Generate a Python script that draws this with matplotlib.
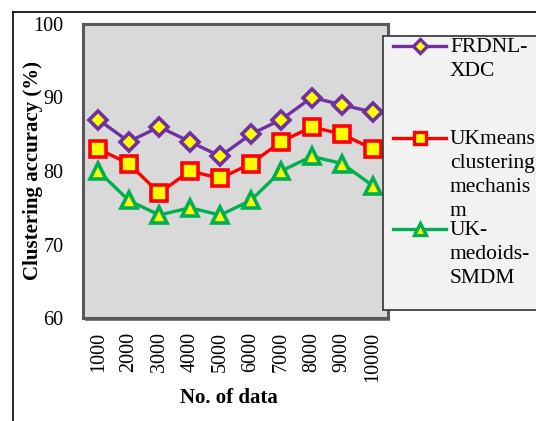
import matplotlib
matplotlib.use('Agg')
import matplotlib.pyplot as plt
from matplotlib.lines import Line2D
from matplotlib.patches import Rectangle

# ======================
# DATA
# ======================

n_data = ['1000', '2000', '3000', '4000', '5000', '6000', '7000', '8000', '9000', '10000']
frdnl_xdc = [87, 84, 86, 84, 82, 85, 87, 90, 89, 88]
ukmeans = [83, 81, 77, 80, 79, 81, 84, 86, 85, 83]
ukmedoids = [80, 76, 74, 75, 74, 76, 80, 82, 81, 78]

series = [
    (frdnl_xdc, ['FRDNL-', 'XDC'], '#7030a0', 'D', 9.5),
    (ukmeans, ['UKmeans', 'clustering', 'mechanis', 'm'], '#ff0000', 's', 11),
    (ukmedoids, ['UK-', 'medoids-', 'SMDM'], '#00b050', '^', 12),
]

# ======================
# FIGURE
# ======================

plt.rcParams['font.family'] = ['Liberation Serif', 'DejaVu Serif']
W, H = 536, 421
fig = plt.figure(figsize=(W / 100, H / 100), dpi=100)


def fx(px):
    return px / W


def fy(py):
    return (H - py) / H


# outer frame
fig.add_artist(Line2D([fx(12.5), fx(12.5)], [fy(12), 0], color='black', lw=1.2))
fig.add_artist(Line2D([fx(12.5), 1], [fy(12), fy(12)], color='black', lw=1.2))

# plot area shadow
fig.add_artist(Rectangle((fx(85), fy(321)), fx(305), 294 / H, facecolor='#7f7f7f',
                         edgecolor='none', zorder=0))

ax = fig.add_axes([fx(83), fy(318), fx(305), 294 / H])
ax.set_zorder(1)
ax.set_facecolor('#d9d9d9')
for sp in ax.spines.values():
    sp.set_color('#595959')
    sp.set_linewidth(2.2)

x = range(len(n_data))
for vals, label, color, marker, ms in series:
    ax.plot(x, vals, color=color, lw=2.4, marker=marker, markersize=ms,
            markerfacecolor='#ffff00', markeredgecolor=color, markeredgewidth=2.6,
            clip_on=False, zorder=3)

ax.set_xlim(-0.5, len(n_data) - 0.5)
ax.set_ylim(60, 100)
ax.set_yticks([60, 70, 80, 90, 100])
ax.set_xticks(list(x))
ax.set_xticklabels(n_data, rotation=90, va='top')
ax.tick_params(axis='both', length=0, labelsize=14.5)
ax.tick_params(axis='y', pad=14)
ax.tick_params(axis='x', pad=10)

ax.set_xlabel('No. of data', fontsize=15, fontweight='bold')
ax.set_ylabel('Clustering accuracy (%)', fontsize=15, fontweight='bold')
ax.xaxis.set_label_coords(0.479, -0.238)
ax.yaxis.set_label_coords(-0.132, 0.5)

# ======================
# LEGEND
# ======================

fig.add_artist(Rectangle((fx(383), fy(310)), fx(200), (310 - 36) / H,
                         facecolor='#f2f2f2', edgecolor='#404040', lw=1.3, zorder=5))

rows = [46, 138, 229]
for (vals, label, color, marker, ms), ry in zip(series, rows):
    fig.add_artist(Line2D([fx(393), fx(446)], [fy(ry), fy(ry)], color=color, lw=2.4,
                          zorder=6))
    fig.add_artist(Line2D([fx(419.5)], [fy(ry)], color=color, marker=marker,
                          markersize=ms * 0.75, markerfacecolor='#ffff00',
                          markeredgecolor=color, markeredgewidth=2.4, zorder=7))
    for i, line in enumerate(label):
        fig.text(fx(450), fy(ry + 1.5 + i * 24), line, fontsize=15.5, va='center',
                 ha='left', zorder=8)

fig.savefig('out.png', dpi=100)
